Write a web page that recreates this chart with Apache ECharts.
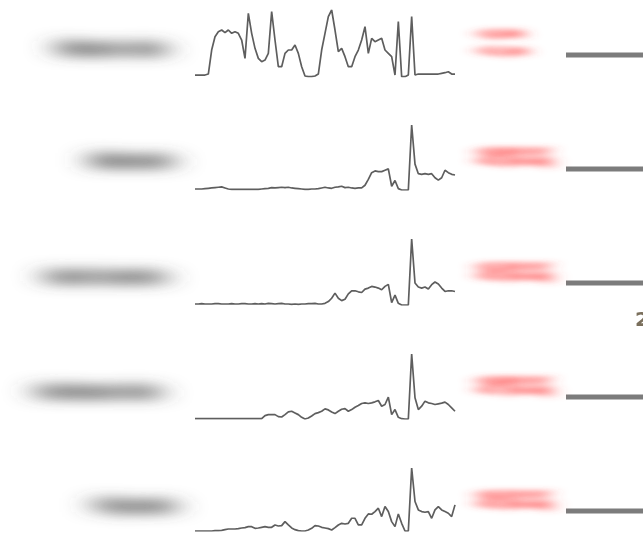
<!DOCTYPE html>
<html>
<head>
<meta charset="utf-8">
<script src="https://cdn.jsdelivr.net/npm/echarts@6/dist/echarts.min.js"></script>
<style>
html,body{margin:0;padding:0;background:#ffffff;overflow:hidden;}
.layer{position:absolute;left:0;top:0;width:643px;height:534px;}
#main{filter:blur(0.7px);}
#labels{filter:url(#blurL);}
#notes{filter:url(#blurR);}
</style>
</head>
<body>
<svg width="0" height="0" style="position:absolute">
  <filter id="blurL" x="-5%" y="-5%" width="110%" height="110%"><feGaussianBlur stdDeviation="15 7"/></filter>
  <filter id="blurR" x="-5%" y="-5%" width="110%" height="110%"><feGaussianBlur stdDeviation="9 2.6"/></filter>
</svg>
<div id="main" class="layer"></div>
<div id="labels" class="layer"></div>
<div id="notes" class="layer"></div>
<script>
// ---------- data ----------
const categories = ['Western Asia', 'Melanesia', 'South America', 'Southeast Asia', 'Polynesia'];
const notes = ['+12.4%\n+3.1 pts', '+18.6% YoY\n+4.2 pts avg', '+21.3% YoY\n+5.0 pts avg', '+19.8% YoY\n+4.7 pts avg', '+24.1% YoY\n+6.3 pts avg'];
const barValues = [100, 100, 100, 100, 100];
const sideTick = '2';

const row1 = [5,5,5,5,8,80,120,135,140,132,
  140,130,135,130,110,55,190,130,85,55,
  45,50,70,195,110,30,30,70,80,80,
  95,70,30,2,0,0,2,8,80,130,
  180,200,140,75,85,60,30,30,60,80,
  110,150,70,115,105,110,115,80,70,60,
  5,165,0,0,5,180,5,8,8,8,
  8,8,8,8,10,12,15,8,8];
const row2 = [7,7,7,8,9,10,11,12,13,10,
  7,6,6,6,6,6,6,6,6,6,
  7,8,9,11,10,11,12,11,12,10,
  9,8,7,6,6,7,7,8,10,12,
  10,9,12,13,15,11,12,10,9,10,
  10,18,35,55,60,58,58,62,66,15,
  32,8,4,4,4,195,80,52,50,52,
  50,52,40,33,40,62,55,50,48];
const row3 = [8,8,9,8,8,8,9,9,8,8,
  8,9,8,8,9,9,8,8,9,8,
  9,8,10,9,8,9,10,8,8,7,
  8,7,8,8,9,9,10,8,8,10,
  15,25,40,25,18,22,38,47,47,44,
  42,52,55,60,58,55,50,60,66,12,
  34,10,5,5,5,200,70,58,55,58,
  52,65,73,67,55,45,47,47,45];
const row4 = [8,8,8,8,8,8,8,8,8,8,
  8,8,8,8,8,8,8,8,8,8,
  8,17,20,20,20,14,13,20,28,30,
  25,20,12,7,10,16,23,26,30,37,
  34,28,23,30,36,38,30,35,42,47,
  53,55,53,55,58,62,45,50,72,20,
  35,12,8,7,7,200,70,35,45,60,
  55,53,50,52,54,57,50,40,30];
const row5 = [7,7,7,7,7,7,8,8,9,11,
  13,13,13,14,16,17,20,20,15,16,
  18,20,18,18,25,22,23,35,25,16,
  11,8,7,7,10,15,23,22,18,16,
  14,10,17,25,30,28,30,45,45,25,
  25,45,58,57,65,75,50,80,65,35,
  20,58,30,7,7,195,95,70,65,63,
  65,45,70,80,70,65,60,50,85];
const rows = [row1, row2, row3, row4, row5];

// ---------- layout ----------
const sparkLeft = 195, sparkWidth = 260;
const sparkTops = [10, 125, 239, 354, 468];
const sparkHeights = [66.7, 65, 66, 65, 63];
const labelRight = [165, 172, 165, 159, 174];
const labelY = [49, 161, 277, 392, 506];
const noteX = [478, 477, 477, 477, 477];
const noteY = [42.5, 157, 272, 386, 500];
const noteLH = [17, 9, 9, 9, 9];

// ---------- main chart: sparklines + bars ----------
const main = echarts.init(document.getElementById('main'), null, {renderer: 'canvas'});
const grids = [], xAxes = [], yAxes = [], series = [];
rows.forEach((vals, k) => {
  grids.push({left: sparkLeft, width: sparkWidth, top: sparkTops[k], height: sparkHeights[k]});
  xAxes.push({type: 'category', gridIndex: k, boundaryGap: false,
    data: vals.map((_, i) => i), show: false});
  yAxes.push({type: 'value', gridIndex: k, min: 'dataMin', max: 'dataMax', show: false});
  series.push({type: 'line', xAxisIndex: k, yAxisIndex: k, data: vals, symbol: 'none',
    lineStyle: {color: '#5e5e5e', width: 1.7}, silent: true});
});
// bars on the right (cut off by the canvas edge)
grids.push({left: 566, width: 400, top: 55, height: 456});
xAxes.push({type: 'value', gridIndex: 5, min: 0, max: 100, show: false});
yAxes.push({type: 'category', gridIndex: 5, inverse: true, boundaryGap: false, data: categories, show: false});
series.push({type: 'bar', xAxisIndex: 5, yAxisIndex: 5, data: barValues, barWidth: 5,
  itemStyle: {color: '#7c7c7c'}, silent: true});

main.setOption({
  animation: false,
  grid: grids, xAxis: xAxes, yAxis: yAxes, series: series,
  graphic: [{type: 'text', x: 635, y: 321,
    style: {text: sideTick, fill: '#7a6f5c', font: 'bold 20px "DejaVu Sans"', textVerticalAlign: 'middle', verticalAlign: 'middle'}}]
});

// ---------- blurred labels ----------
const lab = echarts.init(document.getElementById('labels'));
lab.setOption({
  animation: false,
  graphic: categories.map((c, k) => ({
    type: 'text', x: labelRight[k], y: labelY[k],
    style: {text: c, fill: '#4a4a4a', stroke: '#4a4a4a', lineWidth: 2, font: 'bold 17px "Liberation Sans"',
      textAlign: 'right', align: 'right', textVerticalAlign: 'middle', verticalAlign: 'middle'}
  }))
});

// ---------- blurred red notes ----------
const nt = echarts.init(document.getElementById('notes'));
nt.setOption({
  animation: false,
  graphic: notes.map((n, k) => ({
    type: 'text', x: noteX[k], y: noteY[k],
    style: {text: n, fill: '#ff4848', stroke: '#ff4848', lineWidth: 0.6, font: 'bold 13px "Liberation Sans"', lineHeight: noteLH[k],
      textAlign: 'left', align: 'left', textVerticalAlign: 'middle', verticalAlign: 'middle'}
  }))
});
</script>
</body>
</html>
